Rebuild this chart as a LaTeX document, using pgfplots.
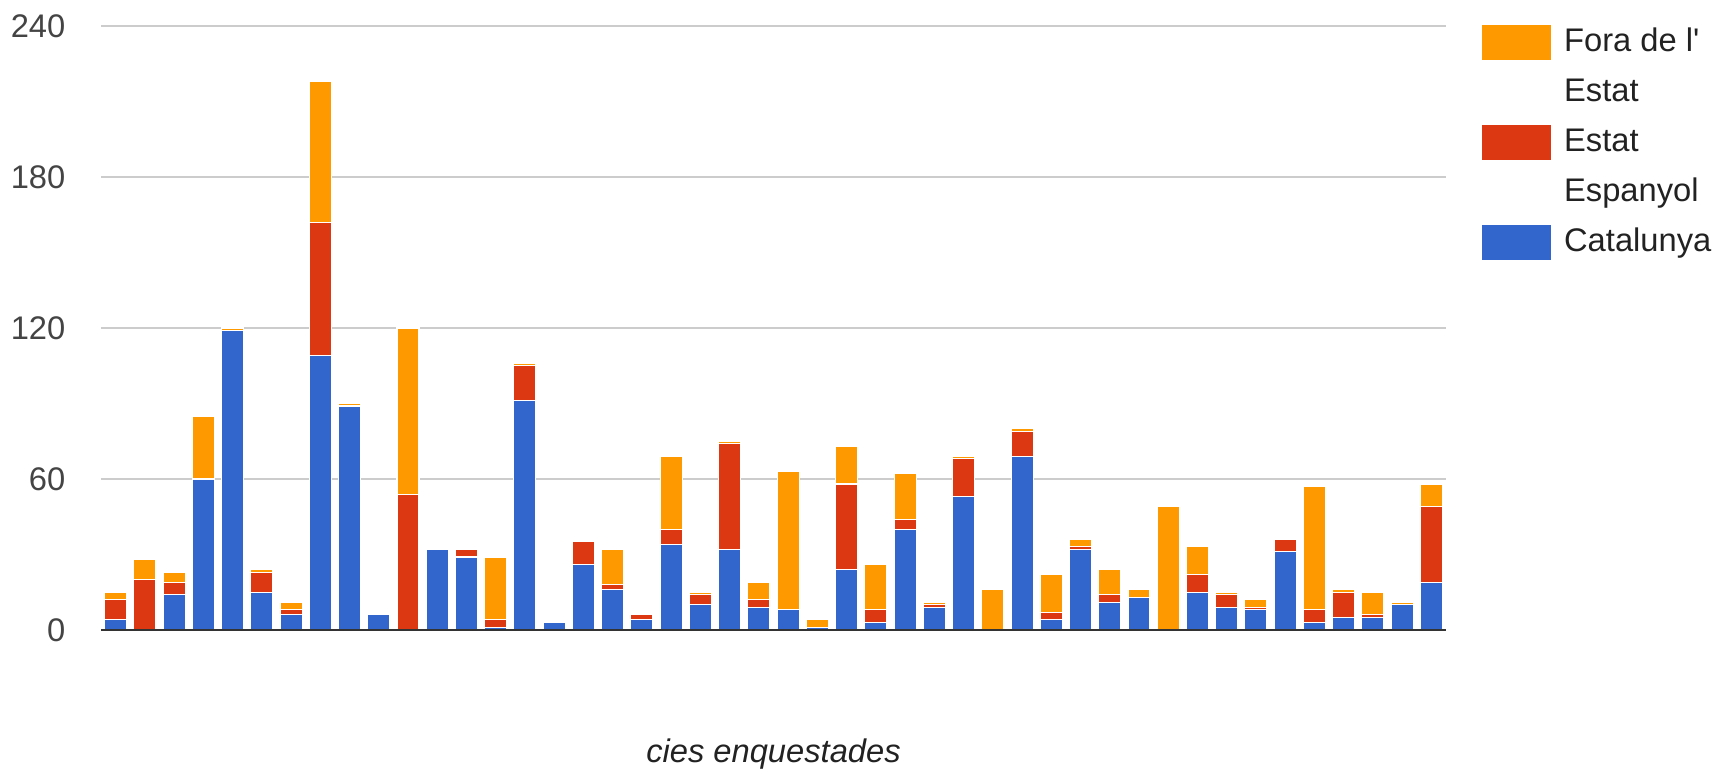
\documentclass[border=0pt]{standalone}
\usepackage{fontspec}
\setmainfont{Liberation Sans}
\usepackage{pgfplots}
\pgfplotsset{compat=1.18}
\usepackage{pgfplotstable}
\definecolor{cOr}{HTML}{FF9900}
\definecolor{cRd}{HTML}{DC3912}
\definecolor{cBl}{HTML}{3366CC}
\definecolor{ticktxt}{HTML}{444444}
\definecolor{legtxt}{HTML}{222222}
\definecolor{gridc}{HTML}{CCCCCC}
\definecolor{basec}{HTML}{333333}

\pgfplotstableread{
x C E F
0 4 8 3
1 0 20 8
2 14 5 4
3 60 0 25
4 119 0 1
5 15 8 1
6 6 2 3
7 109 53 56
8 89 0 1
9 6 0 0
10 0 54 66
11 32 0 0
12 29 3 0
13 1 3 25
14 91 14 1
15 3 0 0
16 26 9 0
17 16 2 14
18 4 2 0
19 34 6 29
20 10 4 1
21 32 42 1
22 9 3 7
23 8 0 55
24 1 0 3
25 24 34 15
26 3 5 18
27 40 4 18
28 9 1 1
29 53 15 1
30 0 0 16
31 69 10 1
32 4 3 15
33 32 1 3
34 11 3 10
35 13 0 3
36 0 0 49
37 15 7 11
38 9 5 1
39 8 1 3
40 31 5 0
41 3 5 49
42 5 10 1
43 5 1 9
44 10 0 1
45 19 30 9
}\data

\begin{document}
\begin{tikzpicture}
\path[use as bounding box] (-10.1mm,-14.2mm) rectangle (162.6mm,63.0mm);
\begin{axis}[
  name=ax,
  at={(0,0)}, anchor=south west,
  scale only axis, width=134.5mm, height=60.4mm,
  ybar stacked, bar width=2.2mm,
  xmin=-0.5, xmax=45.5, ymin=0, ymax=240,
  clip=false,
  xtick=\empty, ytick={0,60,120,180,240},
  ymajorgrids, grid style={color=gridc, line width=0.15mm},
  axis line style={draw=none}, major tick length=0pt,
  tick label style={font=\fontsize{9.3}{11}\selectfont, text=ticktxt},
  yticklabel style={anchor=east, inner sep=0pt, xshift=-3.5mm},
  /pgf/number format/assume math mode=true,
  xlabel={cies enquestades},
  xlabel style={at={(rel axis cs:0.5,0)}, anchor=center, yshift=-12.4mm,
    font=\fontsize{9.3}{11}\selectfont\itshape, text=legtxt},
  legend cell align=left,
  legend style={at={(rel axis cs:1,1)}, anchor=north west, xshift=3.5mm, yshift=0.9mm,
    draw=none, fill=none, inner sep=0pt, column sep=0.6mm, row sep=0pt,
    font=\fontsize{9.3}{11}\selectfont, text=legtxt,
    cells={anchor=west, minimum height=5mm, inner sep=0pt}},
]
\addlegendimage{legend image code/.code={\fill[cOr] (0mm,-1.7mm) rectangle (6.8mm,1.7mm);}}
\addlegendentry{Fora de l\textquotesingle}
\addlegendimage{legend image code/.code={}}
\addlegendentry{Estat}
\addlegendimage{legend image code/.code={\fill[cRd] (0mm,-1.7mm) rectangle (6.8mm,1.7mm);}}
\addlegendentry{Estat}
\addlegendimage{legend image code/.code={}}
\addlegendentry{Espanyol}
\addlegendimage{legend image code/.code={\fill[cBl] (0mm,-1.7mm) rectangle (6.8mm,1.7mm);}}
\addlegendentry{Catalunya}

\addplot[fill=cBl, draw=white, line width=0.3pt] table[x=x, y=C]{\data};
\addplot[fill=cRd, draw=white, line width=0.3pt] table[x=x, y=E]{\data};
\addplot[fill=cOr, draw=white, line width=0.3pt] table[x=x, y=F]{\data};
\end{axis}
\draw[basec, line width=0.22mm] (ax.south west) -- (ax.south east);
\end{tikzpicture}
\end{document}
